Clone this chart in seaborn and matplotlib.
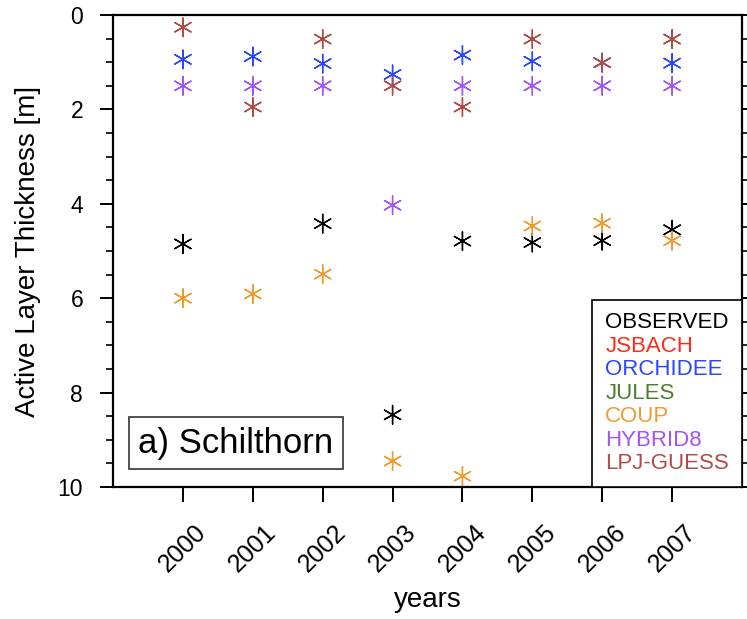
import numpy as np
import pandas as pd
import matplotlib
matplotlib.use("Agg")
import matplotlib.pyplot as plt
from matplotlib.lines import Line2D
from matplotlib.ticker import MultipleLocator
from matplotlib.transforms import ScaledTranslation
import seaborn as sns

nan = np.nan
years = [2000, 2001, 2002, 2003, 2004, 2005, 2006, 2007]
models = ["OBSERVED", "JSBACH", "ORCHIDEE", "JULES", "COUP", "HYBRID8", "LPJ-GUESS"]
colors = ["#000000", "#ff2a1a", "#2a46ff", "#4a7f2c", "#f09a30", "#a155f2", "#b04a46"]

observed = [4.85, nan, 4.42, 8.47, 4.79, 4.82, 4.78, 4.55]
jsbach = [nan, nan, nan, nan, nan, nan, nan, nan]
orchidee = [0.94, 0.88, 1.03, 1.26, 0.85, 0.98, 1.01, 1.02]
jules = [nan, nan, nan, nan, nan, nan, nan, nan]
coup = [6.00, 5.91, 5.49, 9.45, 9.77, 4.47, 4.41, 4.78]
hybrid8 = [1.50, 1.50, 1.50, 4.03, 1.50, 1.50, 1.50, 1.50]
lpj_guess = [0.26, 1.95, 0.51, 1.50, 1.95, 0.51, 1.01, 0.51]

series = [observed, jsbach, orchidee, jules, coup, hybrid8, lpj_guess]

rows = []
for m, vals in zip(models, series):
    for y, v in zip(years, vals):
        rows.append({"year": y, "thickness": v, "model": m})
df = pd.DataFrame(rows).dropna()

sns.set_theme(style="ticks")
plt.rcParams["font.family"] = ["Liberation Sans", "DejaVu Sans"]
plt.rcParams["text.color"] = "black"
plt.rcParams["axes.labelcolor"] = "black"
plt.rcParams["xtick.color"] = "black"
plt.rcParams["ytick.color"] = "black"

fig = plt.figure(figsize=(7.47, 6.19), dpi=100)
ax = fig.add_axes([0.1513, 0.2132, 0.842, 0.7626])

palette = dict(zip(models, colors))
sns.scatterplot(data=df, x="year", y="thickness", hue="model", hue_order=models,
                palette=palette, marker=(6, 2, 0), s=180, linewidth=1.0,
                legend=False, ax=ax)

ax.set_xlim(1999, 2008)
ax.set_ylim(10, 0)
ax.set_xticks(years)
ax.set_xticklabels([str(y) for y in years], rotation=45, ha="center", fontsize=18)
offset = ScaledTranslation(6 / 100, 0, fig.dpi_scale_trans)
for lab in ax.get_xticklabels():
    lab.set_transform(lab.get_transform() + offset)
ax.yaxis.set_major_locator(MultipleLocator(2))
ax.yaxis.set_minor_locator(MultipleLocator(0.5))
ax.tick_params(axis="y", which="major", direction="out", length=9.5, width=1.4,
               labelsize=16.5, left=True, right=True, pad=12)
ax.tick_params(axis="y", which="minor", direction="out", length=5, width=1.2,
               left=True, right=True)
ax.tick_params(axis="x", which="major", direction="out", length=10.5, width=1.4,
               pad=13, top=False)
for sp in ax.spines.values():
    sp.set_visible(True)
    sp.set_linewidth(1.6)
    sp.set_color("black")

ax.set_xlabel("years", fontsize=20, labelpad=8)
ax.set_ylabel("Active Layer Thickness [m]", fontsize=20, labelpad=12)

handles = [Line2D([], [], linestyle="none") for _ in models]
leg = ax.legend(handles, models, loc="lower right", bbox_to_anchor=(1, 0),
                borderaxespad=0, handlelength=0, handletextpad=0,
                labelcolor=colors, fontsize=16, labelspacing=0.11,
                fancybox=False, frameon=True, borderpad=0.58)
leg.get_frame().set_edgecolor("black")
leg.get_frame().set_linewidth(1.2)
leg.get_frame().set_alpha(1)

ax.text(0.1955, 0.093, "a) Schilthorn", transform=ax.transAxes, fontsize=25,
        ha="center", va="center",
        bbox=dict(boxstyle="square,pad=0.28", facecolor="white",
                  edgecolor="#333333", linewidth=1.2))

fig.savefig("out.png", dpi=100)
